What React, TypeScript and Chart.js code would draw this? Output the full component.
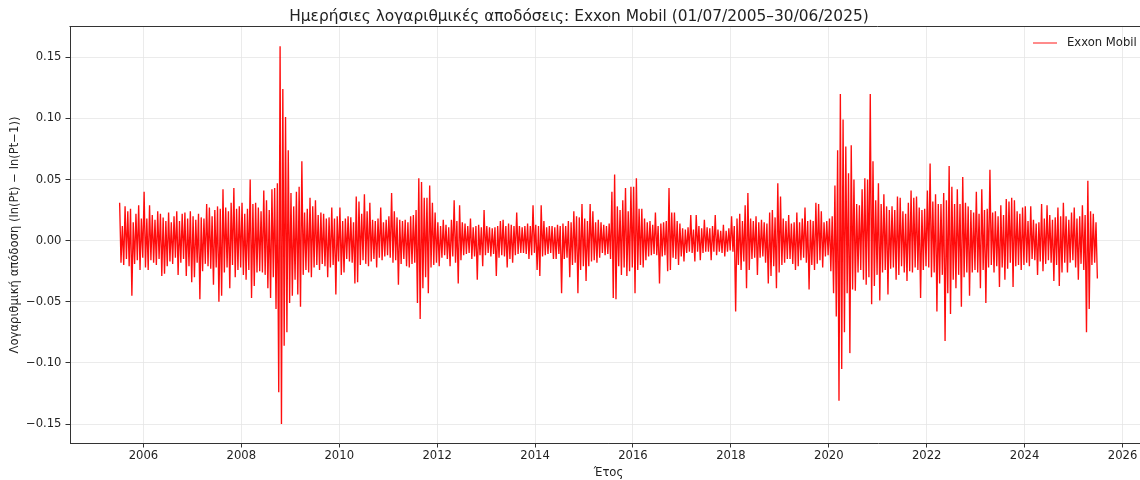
import React, { useEffect, useRef } from "react";
import { Chart, registerables } from "chart.js";

Chart.register(...registerables);

const TITLE = "Ημερήσιες λογαριθμικές αποδόσεις: Exxon Mobil (01/07/2005–30/06/2025)";
const X_LABEL = "Έτος";
const Y_LABEL = "Λογαριθμική απόδοση (ln(Pt) − ln(Pt−1))";
const SERIES_LABEL = "Exxon Mobil";

const START_YEAR = 2005.5; // first trading day, 01/07/2005
const SLOTS_PER_YEAR = 36; // three readings per month
const X_MIN = 2004.5;
const X_MAX = 2026.5;
const Y_MIN = -0.1655;
const Y_MAX = 0.1747;
const X_TICKS = [2006, 2008, 2010, 2012, 2014, 2016, 2018, 2020, 2022, 2024, 2026];
const Y_TICKS = [-0.15, -0.1, -0.05, 0, 0.05, 0.1, 0.15];

// Daily log returns (three per month; Jul–Dec for 2005, Jan–Jun for 2025)
const r2005 = [0.031, -0.018, 0.012, -0.020, 0.028, -0.015, 0.024, -0.021, 0.026, -0.045, 0.015, -0.019, 0.022, -0.016, 0.029, -0.024, 0.018, -0.014];
const r2006 = [0.040, -0.022, 0.018, -0.024, 0.029, -0.016, 0.021, -0.018, 0.017, -0.020, 0.024, -0.015, 0.022, -0.029, 0.019, -0.027, 0.016, -0.021, 0.023, -0.017, 0.015, -0.019, 0.020, -0.014, 0.024, -0.028, 0.016, -0.018, 0.022, -0.015, 0.023, -0.029, 0.018, -0.021, 0.024, -0.034];
const r2007 = [0.020, -0.030, 0.017, -0.018, 0.022, -0.048, 0.019, -0.025, 0.018, -0.019, 0.030, -0.021, 0.027, -0.023, 0.020, -0.036, 0.025, -0.022, 0.028, -0.050, 0.026, -0.045, 0.042, -0.026, 0.027, -0.022, 0.024, -0.039, 0.031, -0.020, 0.043, -0.030, 0.026, -0.024, 0.028, -0.022];
const r2008 = [0.031, -0.028, 0.022, -0.032, 0.026, -0.024, 0.050, -0.047, 0.030, -0.037, 0.031, -0.026, 0.027, -0.025, 0.024, -0.026, 0.041, -0.028, 0.033, -0.039, 0.025, -0.047, 0.042, -0.030, 0.043, -0.056, 0.047, -0.124, 0.159, -0.150, 0.124, -0.086, 0.101, -0.075, 0.074, -0.051];
const r2009 = [0.039, -0.045, 0.028, -0.032, 0.040, -0.044, 0.044, -0.054, 0.065, -0.028, 0.023, -0.024, 0.026, -0.026, 0.035, -0.030, 0.028, -0.022, 0.033, -0.020, 0.021, -0.024, 0.023, -0.019, 0.022, -0.021, 0.018, -0.030, 0.019, -0.022, 0.027, -0.020, 0.018, -0.044, 0.020, -0.017];
const r2010 = [0.027, -0.028, 0.016, -0.026, 0.018, -0.015, 0.020, -0.017, 0.019, -0.018, 0.015, -0.035, 0.036, -0.034, 0.032, -0.020, 0.022, -0.016, 0.038, -0.019, 0.024, -0.021, 0.031, -0.017, 0.017, -0.015, 0.016, -0.022, 0.018, -0.014, 0.027, -0.016, 0.015, -0.013, 0.017, -0.012];
const r2011 = [0.020, -0.014, 0.039, -0.018, 0.024, -0.016, 0.019, -0.036, 0.017, -0.019, 0.016, -0.015, 0.017, -0.021, 0.015, -0.022, 0.020, -0.019, 0.021, -0.018, 0.025, -0.051, 0.051, -0.064, 0.048, -0.039, 0.035, -0.030, 0.035, -0.043, 0.045, -0.022, 0.031, -0.020, 0.023, -0.018];
const r2012 = [0.015, -0.021, 0.012, -0.014, 0.017, -0.012, 0.013, -0.015, 0.011, -0.021, 0.017, -0.013, 0.033, -0.018, 0.016, -0.035, 0.029, -0.016, 0.015, -0.012, 0.014, -0.011, 0.012, -0.010, 0.018, -0.015, 0.011, -0.013, 0.012, -0.032, 0.013, -0.012, 0.011, -0.021, 0.025, -0.012];
const r2013 = [0.012, -0.010, 0.011, -0.013, 0.010, -0.011, 0.011, -0.029, 0.012, -0.014, 0.016, -0.012, 0.017, -0.013, 0.012, -0.022, 0.014, -0.015, 0.013, -0.018, 0.012, -0.012, 0.023, -0.011, 0.012, -0.010, 0.011, -0.010, 0.012, -0.011, 0.014, -0.015, 0.012, -0.012, 0.029, -0.010];
const r2014 = [0.013, -0.024, 0.012, -0.029, 0.029, -0.013, 0.016, -0.012, 0.011, -0.011, 0.012, -0.010, 0.012, -0.015, 0.011, -0.015, 0.013, -0.011, 0.012, -0.043, 0.014, -0.015, 0.012, -0.014, 0.016, -0.030, 0.015, -0.020, 0.024, -0.018, 0.020, -0.043, 0.019, -0.024, 0.030, -0.021];
const r2015 = [0.018, -0.033, 0.016, -0.021, 0.030, -0.017, 0.024, -0.016, 0.015, -0.018, 0.017, -0.014, 0.015, -0.010, 0.013, -0.012, 0.012, -0.011, 0.014, -0.015, 0.040, -0.047, 0.054, -0.048, 0.028, -0.021, 0.025, -0.028, 0.033, -0.022, 0.043, -0.029, 0.024, -0.025, 0.044, -0.022];
const r2016 = [0.044, -0.043, 0.051, -0.024, 0.026, -0.020, 0.026, -0.022, 0.018, -0.016, 0.015, -0.013, 0.016, -0.012, 0.013, -0.011, 0.023, -0.012, 0.012, -0.035, 0.014, -0.013, 0.015, -0.012, 0.016, -0.025, 0.043, -0.024, 0.023, -0.014, 0.023, -0.015, 0.016, -0.020, 0.014, -0.013];
const r2017 = [0.010, -0.017, 0.009, -0.010, 0.011, -0.009, 0.021, -0.010, 0.009, -0.017, 0.021, -0.009, 0.012, -0.016, 0.010, -0.010, 0.017, -0.009, 0.011, -0.009, 0.010, -0.016, 0.012, -0.009, 0.021, -0.012, 0.009, -0.009, 0.008, -0.010, 0.013, -0.013, 0.008, -0.009, 0.010, -0.008];
const r2018 = [0.020, -0.009, 0.012, -0.058, 0.018, -0.020, 0.022, -0.024, 0.016, -0.017, 0.029, -0.039, 0.039, -0.024, 0.018, -0.015, 0.016, -0.014, 0.020, -0.028, 0.015, -0.014, 0.017, -0.013, 0.015, -0.018, 0.014, -0.035, 0.023, -0.029, 0.025, -0.021, 0.019, -0.039, 0.047, -0.026];
const r2019 = [0.036, -0.020, 0.018, -0.018, 0.016, -0.015, 0.021, -0.015, 0.014, -0.019, 0.015, -0.024, 0.023, -0.021, 0.015, -0.016, 0.018, -0.014, 0.027, -0.018, 0.016, -0.040, 0.017, -0.020, 0.016, -0.024, 0.031, -0.019, 0.030, -0.016, 0.024, -0.022, 0.015, -0.013, 0.016, -0.012];
const r2020 = [0.018, -0.025, 0.020, -0.043, 0.045, -0.062, 0.074, -0.131, 0.120, -0.105, 0.099, -0.075, 0.077, -0.043, 0.055, -0.092, 0.078, -0.040, 0.050, -0.041, 0.030, -0.026, 0.029, -0.024, 0.042, -0.032, 0.051, -0.036, 0.050, -0.030, 0.120, -0.052, 0.065, -0.037, 0.033, -0.028];
const r2021 = [0.047, -0.049, 0.030, -0.026, 0.038, -0.024, 0.028, -0.044, 0.025, -0.023, 0.028, -0.022, 0.025, -0.032, 0.036, -0.028, 0.035, -0.021, 0.024, -0.026, 0.022, -0.033, 0.031, -0.025, 0.041, -0.026, 0.035, -0.022, 0.036, -0.024, 0.027, -0.047, 0.025, -0.024, 0.026, -0.021];
const r2022 = [0.041, -0.022, 0.063, -0.030, 0.032, -0.026, 0.038, -0.058, 0.030, -0.035, 0.030, -0.028, 0.039, -0.082, 0.033, -0.043, 0.061, -0.060, 0.044, -0.032, 0.030, -0.039, 0.042, -0.028, 0.030, -0.054, 0.052, -0.030, 0.031, -0.026, 0.028, -0.045, 0.025, -0.026, 0.023, -0.024];
const r2023 = [0.040, -0.026, 0.022, -0.039, 0.042, -0.024, 0.025, -0.051, 0.026, -0.022, 0.058, -0.020, 0.023, -0.026, 0.024, -0.021, 0.020, -0.038, 0.029, -0.022, 0.021, -0.032, 0.034, -0.023, 0.032, -0.018, 0.035, -0.038, 0.033, -0.021, 0.024, -0.020, 0.022, -0.024, 0.027, -0.020];
const r2024 = [0.028, -0.018, 0.016, -0.021, 0.028, -0.015, 0.017, -0.016, 0.014, -0.028, 0.015, -0.017, 0.030, -0.025, 0.018, -0.019, 0.029, -0.016, 0.021, -0.018, 0.017, -0.033, 0.019, -0.020, 0.027, -0.037, 0.020, -0.026, 0.031, -0.018, 0.020, -0.026, 0.017, -0.018, 0.023, -0.016];
const r2025 = [0.027, -0.022, 0.018, -0.032, 0.020, -0.019, 0.029, -0.024, 0.021, -0.075, 0.049, -0.056, 0.024, -0.020, 0.022, -0.018, 0.015, -0.031];

const YEARS = [r2005, r2006, r2007, r2008, r2009, r2010, r2011, r2012, r2013, r2014, r2015, r2016, r2017, r2018, r2019, r2020, r2021, r2022, r2023, r2024, r2025];

const FONT = '"DejaVu Sans", sans-serif';
const TEXT_COLOR = "#222222";
const SPINE_COLOR = "#333333";
const GRID_COLOR = "#e6e6e6";
const LINE_COLOR = "rgba(255,0,0,0.95)";

function fmtY(v: number): string {
  const s = Math.abs(v).toFixed(2);
  return v < -1e-9 ? "\u2212" + s : s;
}

const textPlugin = {
  id: "mplText",
  afterDraw(chart: any) {
    const { ctx, chartArea: a } = chart;
    ctx.save();
    // top spine
    ctx.strokeStyle = SPINE_COLOR;
    ctx.lineWidth = 1;
    ctx.beginPath();
    ctx.moveTo(a.left - 0.5, Math.round(a.top) - 0.5);
    ctx.lineTo(a.right, Math.round(a.top) - 0.5);
    ctx.stroke();

    ctx.fillStyle = TEXT_COLOR;
    // title
    ctx.font = `15.4px ${FONT}`;
    ctx.textAlign = "center";
    ctx.textBaseline = "alphabetic";
    ctx.fillText(TITLE, 579, 20.5);

    // x label
    ctx.font = `11.6px ${FONT}`;
    ctx.textBaseline = "middle";
    ctx.fillText(X_LABEL, (a.left + a.right) / 2, 473);

    // y label
    ctx.save();
    ctx.translate(15, (a.top + a.bottom) / 2);
    ctx.rotate(-Math.PI / 2);
    ctx.fillText(Y_LABEL, 0, 0);
    ctx.restore();

    // legend
    const ly = 43;
    ctx.strokeStyle = "rgba(255,0,0,0.7)";
    ctx.lineWidth = 1.3;
    ctx.beginPath();
    ctx.moveTo(1033, ly);
    ctx.lineTo(1057, ly);
    ctx.stroke();
    ctx.textAlign = "left";
    ctx.fillText(chart.data.datasets[0].label, 1067, ly);
    ctx.restore();
  },
};

export default function App() {
  const ref = useRef<HTMLCanvasElement | null>(null);

  useEffect(() => {
    if (!ref.current) return;
    const points: { x: number; y: number }[] = [];
    let k = 0;
    for (const yr of YEARS) {
      for (const v of yr) {
        points.push({ x: START_YEAR + (k + 0.5) / SLOTS_PER_YEAR, y: v });
        k++;
      }
    }
    const chart = new Chart(ref.current, {
      type: "line",
      data: {
        datasets: [
          {
            label: SERIES_LABEL,
            data: points,
            borderColor: LINE_COLOR,
            borderWidth: 1.35,
            borderJoinStyle: "miter",
            pointRadius: 0,
            tension: 0,
            fill: false,
          },
        ],
      },
      options: {
        animation: false,
        responsive: false,
        devicePixelRatio: 1,
        parsing: false,
        layout: { padding: { top: 27, right: 3, bottom: 0, left: 0 } },
        plugins: {
          legend: { display: false },
          tooltip: { enabled: false },
          title: { display: false },
        },
        scales: {
          x: {
            type: "linear",
            min: X_MIN,
            max: X_MAX,
            afterFit: (s: any) => {
              s.height = 37;
            },
            afterBuildTicks: (s: any) => {
              s.ticks = X_TICKS.map((v) => ({ value: v }));
            },
            ticks: {
              callback: (v: any) => String(v),
              font: { family: FONT, size: 11.6 },
              color: TEXT_COLOR,
              padding: 2,
              maxRotation: 0,
              autoSkip: false,
            },
            grid: {
              color: GRID_COLOR,
              lineWidth: 0.8,
              tickColor: SPINE_COLOR,
              tickLength: 4.5,
              tickWidth: 1,
            },
            border: { color: SPINE_COLOR, width: 1 },
          },
          y: {
            type: "linear",
            min: Y_MIN,
            max: Y_MAX,
            afterFit: (s: any) => {
              s.width = 70;
            },
            afterBuildTicks: (s: any) => {
              s.ticks = Y_TICKS.map((v) => ({ value: v }));
            },
            ticks: {
              callback: (v: any) => fmtY(Number(v)),
              font: { family: FONT, size: 11.6 },
              color: TEXT_COLOR,
              padding: 4,
              autoSkip: false,
            },
            grid: {
              color: GRID_COLOR,
              lineWidth: 0.8,
              tickColor: SPINE_COLOR,
              tickLength: 4.5,
              tickWidth: 1,
            },
            border: { color: SPINE_COLOR, width: 1 },
          },
        },
      },
      plugins: [textPlugin],
    });
    return () => chart.destroy();
  }, []);

  return (
    <div
      style={{
        position: "fixed",
        left: 0,
        top: 0,
        width: 1140,
        height: 480,
        overflow: "hidden",
        background: "#ffffff",
      }}
    >
      <canvas ref={ref} width={1150} height={480} style={{ display: "block" }} />
    </div>
  );
}
